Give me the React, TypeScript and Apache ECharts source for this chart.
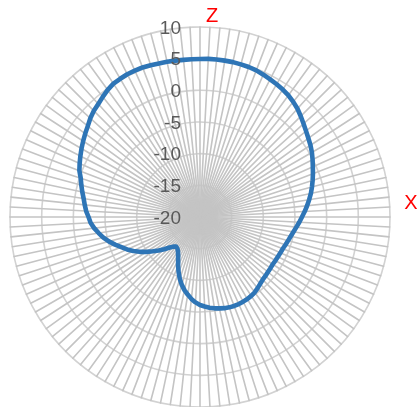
import React, { useEffect, useRef } from "react";
import * as echarts from "echarts";

// Angle categories (degrees, clockwise from Z at top)
const angles = [
  0, 3, 6, 9, 12, 15, 18, 21, 24, 27, 30, 33, 36, 39, 42, 45, 48, 51, 54, 57,
  60, 63, 66, 69, 72, 75, 78, 81, 84, 87, 90, 93, 96, 99, 102, 105, 108, 111, 114, 117,
  120, 123, 126, 129, 132, 135, 138, 141, 144, 147, 150, 153, 156, 159, 162, 165, 168, 171, 174, 177,
  180, 183, 186, 189, 192, 195, 198, 201, 204, 207, 210, 213, 216, 219, 222, 225, 228, 231, 234, 237,
  240, 243, 246, 249, 252, 255, 258, 261, 264, 267, 270, 273, 276, 279, 282, 285, 288, 291, 294, 297,
  300, 303, 306, 309, 312, 315, 318, 321, 324, 327, 330, 333, 336, 339, 342, 345, 348, 351, 354, 357,
];

// Gain pattern values (dB)
const gain = [
  4.95, 5.0, 5.0, 5.0, 5.0, 4.95, 4.9, 4.8, 4.6, 4.4, 4.2, 4.0, 3.75, 3.4, 3.0, 2.5, 2.0, 1.55, 1.15, 0.8,
  0.4, -0.05, -0.5, -0.9, -1.3, -1.7, -2.1, -2.55, -3.0, -3.45, -3.9, -4.3, -4.7, -5.05, -5.35, -5.6, -5.8, -6.0, -6.1, -6.2,
  -6.25, -6.3, -6.25, -6.2, -6.1, -6.0, -5.8, -5.55, -5.3, -5.15, -5.05, -5.0, -4.95, -4.95, -5.0, -5.1, -5.25, -5.4, -5.6, -5.85,
  -6.1, -6.5, -7.0, -7.6, -8.2, -8.9, -9.7, -10.6, -11.5, -12.4, -13.1, -13.6, -13.9, -14.0, -13.7, -13.2, -12.4, -11.6, -10.8, -9.9,
  -9.0, -8.2, -7.4, -6.7, -5.9, -5.1, -4.4, -3.8, -3.2, -2.7, -2.4, -2.0, -1.7, -1.4, -1.0, -0.6, -0.2, 0.4, 0.8, 1.2,
  1.6, 2.0, 2.4, 2.8, 3.3, 3.7, 4.0, 4.4, 4.8, 5.1, 5.2, 5.3, 5.3, 5.3, 5.2, 5.1, 5.05, 5.0, 4.95, 4.95,
];

const radiusMin = -20;
const radiusMax = 10;
const radiusStep = 5;

export default function App() {
  const ref = useRef<HTMLDivElement>(null);

  useEffect(() => {
    if (!ref.current) return;
    const chart = echarts.init(ref.current, undefined, { renderer: "svg" });

    // ECharts radar runs counter-clockwise; reorder so the pattern runs clockwise from the top
    const order = [0, ...angles.map((_, i) => i).slice(1).reverse()];
    const indicator = order.map((i) => ({ name: String(angles[i]), min: radiusMin, max: radiusMax }));
    const values = order.map((i) => gain[i]);

    chart.setOption({
      animation: false,
      radar: {
        center: [200, 217],
        radius: 190,
        startAngle: 90,
        shape: "circle",
        splitNumber: (radiusMax - radiusMin) / radiusStep,
        indicator,
        axisName: { show: false },
        axisLine: { show: true, lineStyle: { color: "#c4c4c4", width: 1.6 } },
        axisTick: { show: false },
        axisLabel: { show: false },
        splitLine: { show: true, lineStyle: { color: "#d2d2d2", width: 1.6 } },
        splitArea: { show: false },
      },
      polar: { center: [200, 217], radius: 190 },
      angleAxis: {
        type: "value",
        min: 0,
        max: 360,
        startAngle: 90,
        clockwise: true,
        axisLine: { show: false },
        axisTick: { show: false },
        axisLabel: { show: false },
        splitLine: { show: false },
      },
      radiusAxis: {
        type: "value",
        min: radiusMin,
        max: radiusMax,
        interval: radiusStep,
        axisLine: { show: false },
        axisTick: { show: false },
        axisLabel: {
          show: true,
          margin: 19,
          fontSize: 19,
          fontFamily: "Liberation Sans",
          color: "#595959",
        },
        splitLine: { show: false },
        z: 10,
      },
      series: [
        {
          type: "radar",
          symbol: "none",
          data: [{ value: values }],
          lineStyle: { color: "#2E75B6", width: 4.6, join: "round" },
          z: 5,
        },
      ],
      graphic: [
        {
          type: "text",
          x: 212,
          y: 15,
          style: {
            text: "Z",
            fill: "#ff0000",
            fontSize: 20,
            fontFamily: "Liberation Sans",
            align: "center",
            verticalAlign: "middle",
          },
        },
        {
          type: "text",
          x: 411,
          y: 202,
          style: {
            text: "X",
            fill: "#ff0000",
            fontSize: 20,
            fontFamily: "Liberation Sans",
            align: "center",
            verticalAlign: "middle",
          },
        },
      ],
    });
    return () => chart.dispose();
  }, []);

  return (
    <div
      ref={ref}
      style={{ position: "fixed", left: 0, top: 0, width: 417, height: 407 }}
    />
  );
}
